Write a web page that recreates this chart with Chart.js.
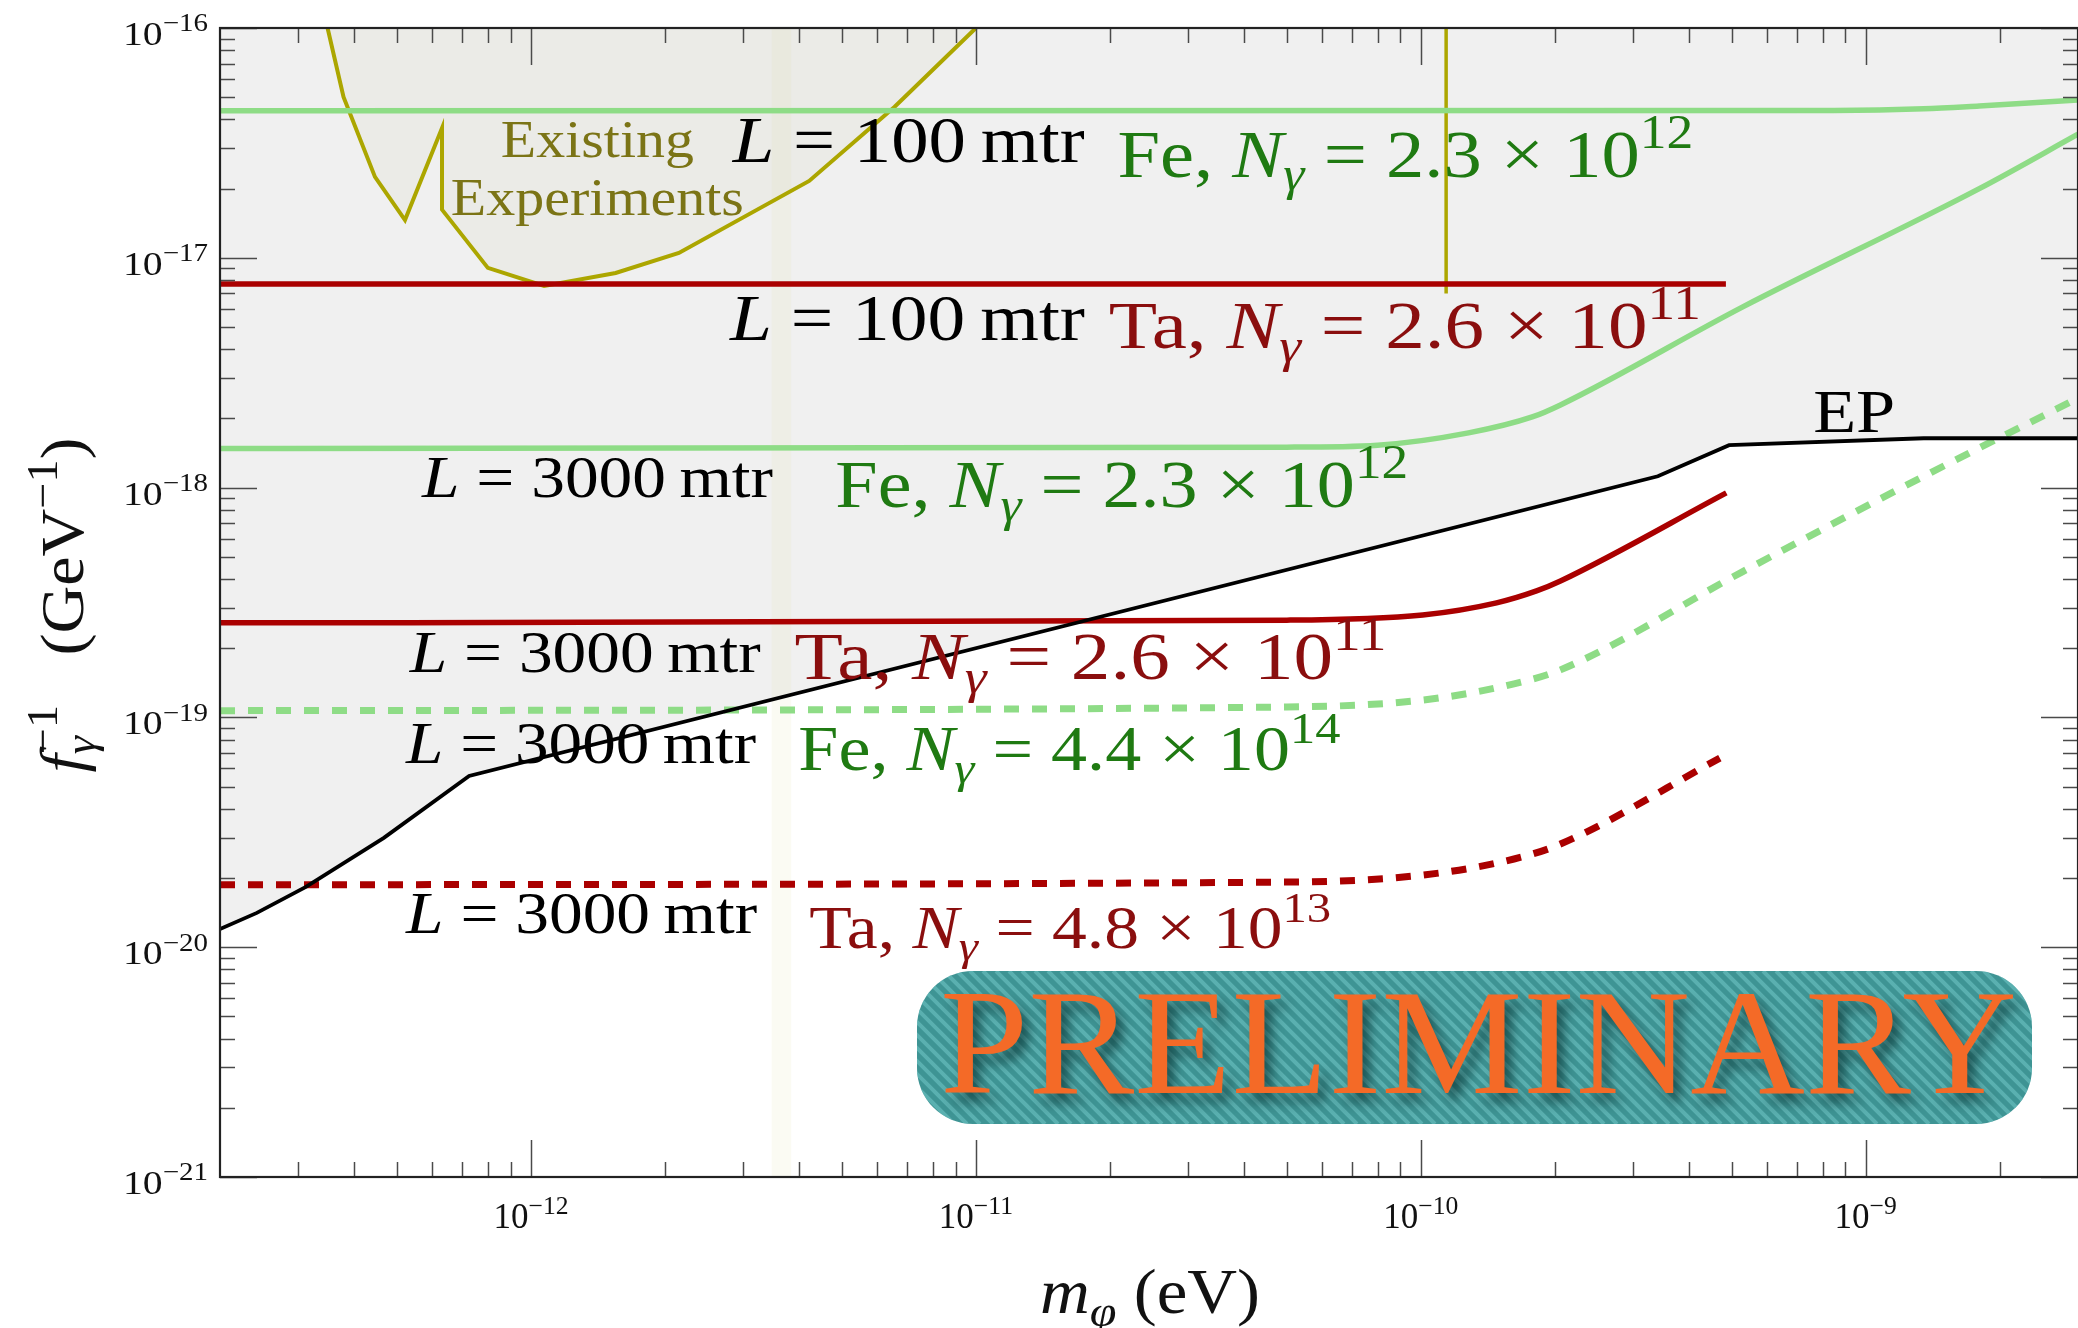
<!DOCTYPE html>
<html>
<head>
<meta charset="utf-8">
<title>Scalar photon coupling reach</title>
<script src="https://cdn.jsdelivr.net/npm/chart.js@4.4.1/dist/chart.umd.min.js"></script>
<style>
  html, body { margin: 0; padding: 0; background: #fff; }
  #wrap { width: 2078px; height: 1328px; }
</style>
</head>
<body>
<div id="wrap"><canvas id="chart" width="2078" height="1328"></canvas></div>
<script>
// x: scalar mass m_phi (eV), y: f_gamma^-1 (GeV^-1)

// L = 100 mtr, Fe, N = 2.3e12 (green solid, top)
const massFe100 = [2e-13, 8.5e-10, 1.35e-9, 1.8e-9, 3e-9];
const reachFe100 = [4.36e-17, 4.38e-17, 4.45e-17, 4.58e-17, 4.86e-17];

// L = 100 mtr, Ta, N = 2.6e11 (red solid, top)
const massTa100 = [2e-13, 4.85e-10];
const reachTa100 = [7.69e-18, 7.69e-18];

// L = 3000 mtr, Fe, N = 2.3e12 (green solid)
const massFe3000 = [2e-13, 5e-11, 8e-11, 1.28e-10, 1.78e-10, 2.06e-10, 5.28e-10, 1.8e-9, 3e-9];
const reachFe3000 = [1.48e-18, 1.5e-18, 1.53e-18, 1.73e-18, 2.03e-18, 2.29e-18, 6.1e-18, 2.0e-17, 3.45e-17];

// L = 3000 mtr, Ta, N = 2.6e11 (red solid)
const massTa3000 = [2e-13, 5e-11, 1.01e-10, 1.48e-10, 1.82e-10, 2.06e-10, 4.86e-10];
const reachTa3000 = [2.58e-19, 2.65e-19, 2.79e-19, 3.15e-19, 3.55e-19, 3.92e-19, 9.48e-19];

// L = 3000 mtr, Fe, N = 4.4e14 (green dashed)
const massFeHi = [2e-13, 5e-11, 1.01e-10, 1.62e-10, 2.06e-10, 5.28e-10, 1.35e-9, 3e-9];
const reachFeHi = [1.07e-19, 1.11e-19, 1.19e-19, 1.4e-19, 1.61e-19, 4.3e-19, 1.12e-18, 2.45e-18];

// L = 3000 mtr, Ta, N = 4.8e13 (red dashed)
const massTaHi = [2e-13, 5e-11, 1.01e-10, 1.62e-10, 2.06e-10, 4.7e-10];
const reachTaHi = [1.87e-20, 1.92e-20, 2.06e-20, 2.42e-20, 2.81e-20, 6.65e-20];

// equivalence principle bound (black)
const massEP = [2e-13, 2.42e-13, 3.12e-13, 4.67e-13, 7.26e-13, 3.41e-10, 4.93e-10, 1.35e-9, 3e-9];
const reachEP = [1.2e-20, 1.41e-20, 1.83e-20, 2.99e-20, 5.56e-20, 1.12e-18, 1.53e-18, 1.64e-18, 1.64e-18];

// existing experiments (olive)
const massExist = [3.49e-13, 3.79e-13, 4.46e-13, 5.21e-13, 6.31e-13, 6.31e-13, 8.0e-13, 1.07e-12, 1.55e-12, 2.15e-12, 4.22e-12, 6.56e-12, 1.0e-11];
const reachExist = [1e-16, 5.01e-17, 2.25e-17, 1.46e-17, 3.67e-17, 1.62e-17, 9.04e-18, 7.54e-18, 8.59e-18, 1.05e-17, 2.16e-17, 4.53e-17, 1e-16];
const massExistBar = [1.14e-10, 1.14e-10];
const reachExistBar = [1e-16, 7.0e-18];

// faint vertical band
const massBand = [3.47e-12, 3.85e-12];
const reachBand = [1e-16, 1e-16];

// axes
const xRange = [2e-13, 3e-9];
const yRange = [1e-21, 1e-16];
const xDecades = [-13, -12, -11, -10, -9];
const yDecades = [-21, -20, -19, -18, -17, -16];
const xTickLabels = ['\u221212', '\u221211', '\u221210', '\u22129'];   // exponents of 10 at 1e-12 .. 1e-9
const yTickLabels = ['\u221221', '\u221220', '\u221219', '\u221218', '\u221217', '\u221216'];

const SERIF = '"Liberation Serif", "DejaVu Serif", serif';
const GREEN = '#8edc86';
const RED = '#aa0000';
const OLIVE = '#aca600';
const GREEN_TXT = '#1f7a12';
const RED_TXT = '#8a0e0e';
const OLIVE_TXT = '#7b7416';

function pts(xs, ys) {
  return xs.map((v, i) => ({ x: v, y: ys[i] }));
}

// --- rich text (italic, sub/superscripts) ---
function runFont(size, it) {
  return (it ? 'italic ' : '') + size.toFixed(1) + 'px ' + SERIF;
}

function measureRich(ctx, runs, size, small) {
  let w = 0, stackW = null;
  runs.forEach(r => {
    ctx.font = runFont(r.pos ? size * small : size, r.it);
    const rw = ctx.measureText(r.t).width;
    if (r.stack) { stackW = rw; return; }
    if (stackW !== null) { w += Math.max(stackW, rw); stackW = null; return; }
    w += rw;
  });
  return w;
}

function drawRich(ctx, runs, x, y, size, color, opts) {
  opts = opts || {};
  const small = opts.small || 0.7;
  const raise = opts.raise || 0.42;
  const total = measureRich(ctx, runs, size, small);
  const stretch = opts.width ? opts.width / total : (opts.stretch || 1.1);
  ctx.save();
  ctx.translate(x, y);
  if (opts.rotate) ctx.rotate(opts.rotate);
  ctx.scale(stretch, 1);
  let cx = opts.align === 'center' ? -total / 2 : opts.align === 'right' ? -total : 0;
  ctx.fillStyle = color;
  ctx.textAlign = 'left';
  ctx.textBaseline = 'alphabetic';
  let stackX = null, stackW = 0;
  runs.forEach(r => {
    ctx.font = runFont(r.pos ? size * small : size, r.it);
    const dy = r.pos === 1 ? -size * raise : r.pos === -1 ? size * 0.2 : 0;
    const rw = ctx.measureText(r.t).width;
    if (r.stack) { ctx.fillText(r.t, cx, dy); stackX = cx; stackW = rw; return; }
    if (stackX !== null) {
      ctx.fillText(r.t, stackX, dy);
      cx = stackX + Math.max(stackW, rw);
      stackX = null;
      return;
    }
    ctx.fillText(r.t, cx, dy);
    cx += rw;
  });
  ctx.restore();
}

function lenLabel(len) {
  return [{ t: 'L', it: true }, { t: ' = ' + len + '\u2009mtr' }];
}
function numLabel(el, mant, exp) {
  return [
    { t: el + ', ' }, { t: 'N', it: true }, { t: '\u03b3', it: true, pos: -1 },
    { t: ' = ' + mant + ' \u00d7 10' }, { t: exp, pos: 1 }
  ];
}

// text annotations, anchored in data units (left end, baseline); size and width in px
const notes = [
  { x: 2.84e-12, y: 2.61e-17, runs: lenLabel('100'), color: '#000', size: 66, w: 352 },
  { x: 2.08e-11, y: 2.25e-17, runs: numLabel('Fe', '2.3', '12'), color: GREEN_TXT, size: 68, w: 576 },
  { x: 2.8e-12, y: 4.39e-18, runs: lenLabel('100'), color: '#000', size: 66, w: 355 },
  { x: 1.99e-11, y: 4.05e-18, runs: numLabel('Ta', '2.6', '11'), color: RED_TXT, size: 68, w: 592 },
  { x: 5.69e-13, y: 9.1e-19, runs: lenLabel('3000'), color: '#000', size: 59, w: 351 },
  { x: 4.83e-12, y: 8.23e-19, runs: numLabel('Fe', '2.3', '12'), color: GREEN_TXT, size: 68, w: 573 },
  { x: 5.34e-13, y: 1.58e-19, runs: lenLabel('3000'), color: '#000', size: 59, w: 351 },
  { x: 3.91e-12, y: 1.47e-19, runs: numLabel('Ta', '2.6', '11'), color: RED_TXT, size: 68, w: 592 },
  { x: 5.24e-13, y: 6.34e-20, runs: lenLabel('3000'), color: '#000', size: 59, w: 350 },
  { x: 3.99e-12, y: 5.9e-20, runs: numLabel('Fe', '4.4', '14'), color: GREEN_TXT, size: 64, w: 542 },
  { x: 5.24e-13, y: 1.15e-20, runs: lenLabel('3000'), color: '#000', size: 59, w: 351 },
  { x: 4.22e-12, y: 9.93e-21, runs: numLabel('Ta', '4.8', '13'), color: RED_TXT, size: 61, w: 522 },
  { x: 7.62e-10, y: 1.75e-18, runs: [{ t: 'EP' }], color: '#000', size: 62, w: 82 },
  { x: 1.41e-12, y: 2.75e-17, runs: [{ t: 'Existing' }], color: OLIVE_TXT, size: 52, w: 193, align: 'center' },
  { x: 1.41e-12, y: 1.53e-17, runs: [{ t: 'Experiments' }], color: OLIVE_TXT, size: 52, w: 293, align: 'center' }
];

function line(ctx, x1, y1, x2, y2) {
  ctx.beginPath();
  ctx.moveTo(x1, y1);
  ctx.lineTo(x2, y2);
  ctx.stroke();
}

function drawFrame(chart) {
  const { ctx, chartArea: a } = chart;
  const xs = chart.scales.x, ys = chart.scales.y;
  ctx.save();
  ctx.lineWidth = 1.5;
  ctx.strokeStyle = '#4a4a4a';
  // y ticks, left and right, pointing inward
  yDecades.forEach(e => {
    for (let k = 1; k <= 9; k++) {
      const v = k * Math.pow(10, e);
      if (v < yRange[0] * 0.999 || v > yRange[1] * 1.001) continue;
      const py = Math.round(ys.getPixelForValue(v)) + 0.5;
      const len = k === 1 ? 37 : 15;
      line(ctx, a.left, py, a.left + len, py);
      line(ctx, a.right, py, a.right - len, py);
    }
  });
  // x ticks, bottom and top
  xDecades.forEach(e => {
    for (let k = 1; k <= 9; k++) {
      const v = k * Math.pow(10, e);
      if (v < xRange[0] * 1.001 || v > xRange[1] * 0.999) continue;
      const px = Math.round(xs.getPixelForValue(v)) + 0.5;
      const len = k === 1 ? 37 : 15;
      line(ctx, px, a.bottom, px, a.bottom - len);
      line(ctx, px, a.top, px, a.top + len);
    }
  });
  // box
  ctx.strokeStyle = '#222';
  ctx.lineWidth = 2.2;
  ctx.strokeRect(a.left, a.top, a.right - a.left, a.bottom - a.top);
  ctx.restore();

  // tick labels
  yDecades.forEach((e, i) => {
    const py = ys.getPixelForValue(Math.pow(10, e));
    drawRich(ctx, [{ t: '10' }, { t: yTickLabels[i], pos: 1 }], 208, py + 17, 34, '#111',
      { align: 'right', small: 0.73, raise: 0.4, width: 85 });
  });
  xTickLabels.forEach((lab, i) => {
    const px = xs.getPixelForValue(Math.pow(10, -12 + i));
    drawRich(ctx, [{ t: '10' }, { t: lab, pos: 1 }], px, 1228, 35, '#111',
      { align: 'center', small: 0.73, raise: 0.4, stretch: 1.0 });
  });

  // axis titles
  drawRich(ctx, [{ t: 'm', it: true }, { t: '\u03c6', it: true, pos: -1 }, { t: ' (eV)' }],
    1150, 1313, 64, '#111', { align: 'center', width: 220 });
  drawRich(ctx, [
    { t: 'f', it: true }, { t: '\u03b3', it: true, pos: -1, stack: true }, { t: '\u22121', pos: 1 },
    { t: '\u2002 (GeV' }, { t: '\u22121', pos: 1 }, { t: ')' }
  ], 83, 605, 62, '#111', { align: 'center', rotate: -Math.PI / 2, width: 335 });

  // annotations
  notes.forEach(n => {
    drawRich(ctx, n.runs, xs.getPixelForValue(n.x), ys.getPixelForValue(n.y), n.size, n.color,
      { align: n.align || 'left', width: n.w });
  });

  drawBadge(ctx);
}

function drawBadge(ctx) {
  const x0 = 917, y0 = 971, x1 = 2032, y1 = 1124;
  ctx.save();
  ctx.beginPath();
  ctx.roundRect(x0, y0, x1 - x0, y1 - y0, 56);
  ctx.fillStyle = '#3e9494';
  ctx.fill();
  ctx.clip();
  ctx.strokeStyle = 'rgba(110,195,195,0.6)';
  ctx.lineWidth = 4;
  for (let s = x0 - 220; s < x1 + 20; s += 13) {
    line(ctx, s, y0, s + (y1 - y0), y1);
  }
  // PRELIMINARY
  const text = 'PRELIMINARY';
  ctx.font = '151px ' + SERIF;
  const w = ctx.measureText(text).width;
  ctx.translate((940 + 2017) / 2, 1093);
  ctx.scale(1077 / w, 1);
  ctx.textAlign = 'center';
  ctx.textBaseline = 'alphabetic';
  ctx.shadowColor = 'rgba(0,35,35,0.6)';
  ctx.shadowOffsetX = 7;
  ctx.shadowOffsetY = 9;
  ctx.shadowBlur = 12;
  ctx.fillStyle = '#f46a27';
  ctx.fillText(text, 0, 0);
  ctx.restore();
}

const decor = {
  id: 'decor',
  beforeDraw(chart) {
    const { ctx, width, height } = chart;
    ctx.save();
    ctx.fillStyle = '#fff';
    ctx.fillRect(0, 0, width, height);
    ctx.restore();
  },
  afterDraw(chart) {
    drawFrame(chart);
  }
};

const curve = (label, xs, ys, color, extra) => Object.assign({
  label: label,
  data: pts(xs, ys),
  borderColor: color,
  borderWidth: 5.5,
  pointRadius: 0,
  fill: false,
  showLine: true,
  cubicInterpolationMode: 'monotone',
  order: 3
}, extra || {});

new Chart(document.getElementById('chart'), {
  type: 'scatter',
  data: {
    datasets: [
      // shaded region above the EP bound
      { label: 'EP shade', data: pts(massEP, reachEP), showLine: true, borderWidth: 0, pointRadius: 0,
        borderColor: 'rgba(0,0,0,0)', backgroundColor: '#f0f0f0', fill: 'end', order: 9 },
      { label: 'band', data: pts(massBand, reachBand), showLine: true, borderWidth: 0, pointRadius: 0,
        borderColor: 'rgba(0,0,0,0)', backgroundColor: 'rgba(225,225,170,0.14)', fill: 'start', order: 8 },
      { label: 'Existing Experiments', data: pts(massExist, reachExist), showLine: true, pointRadius: 0,
        borderColor: OLIVE, borderWidth: 4, backgroundColor: 'rgba(150,150,70,0.05)', fill: 'end', order: 4 },
      { label: 'Existing bar', data: pts(massExistBar, reachExistBar), showLine: true, pointRadius: 0,
        borderColor: OLIVE, borderWidth: 3.5, fill: false, order: 4 },
      curve('Fe 100', massFe100, reachFe100, GREEN),
      curve('Ta 100', massTa100, reachTa100, RED),
      curve('Fe 3000', massFe3000, reachFe3000, GREEN),
      curve('Ta 3000', massTa3000, reachTa3000, RED),
      curve('Fe 3000 hi', massFeHi, reachFeHi, GREEN, { borderWidth: 7, borderDash: [15, 13] }),
      curve('Ta 3000 hi', massTaHi, reachTaHi, RED, { borderWidth: 7, borderDash: [15, 13] }),
      { label: 'EP', data: pts(massEP, reachEP), showLine: true, pointRadius: 0,
        borderColor: '#000', borderWidth: 3.8, fill: false, order: 1 }
    ]
  },
  options: {
    responsive: false,
    animation: false,
    layout: { padding: { left: 220, right: 0, top: 28, bottom: 151 } },
    scales: {
      x: { type: 'logarithmic', min: xRange[0], max: xRange[1], display: false },
      y: { type: 'logarithmic', min: yRange[0], max: yRange[1], display: false }
    },
    plugins: {
      legend: { display: false },
      tooltip: { enabled: false },
      filler: { drawTime: 'beforeDatasetsDraw' }
    }
  },
  plugins: [decor]
});
</script>
</body>
</html>
